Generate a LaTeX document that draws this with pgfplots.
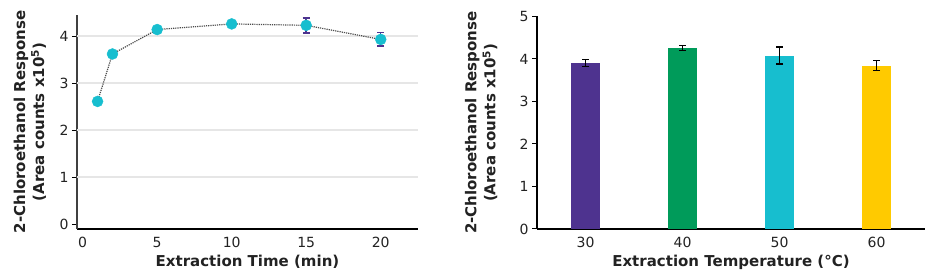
\documentclass[border=0pt]{standalone}
\usepackage{pgfplots}
\pgfplotsset{compat=1.18}
\usepackage{fontspec}
\setmainfont{DejaVu Sans}
\definecolor{cyanM}{HTML}{17BECF}
\definecolor{purpleB}{HTML}{4E338F}
\definecolor{greenB}{HTML}{009B5A}
\definecolor{yellowB}{HTML}{FFCA00}
\definecolor{gridc}{HTML}{E6E6E6}
\definecolor{txt}{HTML}{222222}
\pgfplotsset{
  common/.style={
    scale only axis,
    anchor=south west,
    axis x line*=bottom,
    axis y line*=left,
    axis line style={-},
    tick align=outside,
    major tick length=5pt,
    /pgf/number format/assume math mode=true,
    ticklabel style={font=\fontsize{14}{14}\selectfont, text=txt},
    label style={font=\bfseries\fontsize{15}{19}\selectfont, text=txt},
    xtick style={draw=none},
    ytick style={line width=1pt, black},
  },
  barerr/.style={
    error bars/.cd, y dir=both, y explicit,
    error bar style={black, line width=1.2pt},
    error mark options={rotate=90, mark size=3.5pt, line width=1.2pt, black},
  }
}
\begin{document}
\begin{tikzpicture}
\useasboundingbox (0pt,0pt) rectangle (950pt,275pt);
% left chart
\begin{axis}[common,
  at={(77pt,46pt)},
  width=341pt, height=214pt,
  xmin=-0.38, xmax=22.5,
  ymin=-0.106, ymax=4.45,
  xtick={0,5,10,15,20},
  ytick={0,1,2,3,4},
  extra y ticks={1,2,3,4},
  extra y tick labels={},
  extra y tick style={grid=major, major tick length=0pt},
  grid style={gridc, line width=1.3pt},
  x axis line style={black, line width=2pt},
  y axis line style={black!75, line width=1.6pt},
  xlabel={Extraction Time (min)},
  xlabel style={at={(axis description cs:0.5,0)}, anchor=center, yshift=-33pt},
  ylabel={2-Chloroethanol Response\\(Area counts x10\textsuperscript{5})},
  ylabel style={at={(axis description cs:-0.138,0.5)}, anchor=center, align=center},
]
\addplot[densely dotted, black!70, line width=1.2pt] coordinates {
  (1,2.61) (2,3.62) (5,4.14) (10,4.26) (15,4.23) (20,3.93)
};
\addplot[draw=none, mark=none,
  error bars/.cd, y dir=both, y explicit,
  error bar style={purpleB, line width=1.5pt},
  error mark options={rotate=90, mark size=3.5pt, line width=1.5pt, purpleB}]
 coordinates {
  (1,2.61) +- (0,0.02)
  (2,3.62) +- (0,0.02)
  (5,4.14) +- (0,0.02)
  (10,4.26) +- (0,0.02)
  (15,4.23) +- (0,0.16)
  (20,3.93) +- (0,0.145)
};
\addplot[only marks, mark=*, mark size=5.5pt, mark options={fill=cyanM, draw=cyanM}] coordinates {
  (1,2.61) (2,3.62) (5,4.14) (10,4.26) (15,4.23) (20,3.93)
};
\end{axis}
% right chart
\begin{axis}[common,
  at={(537pt,46pt)},
  width=388pt, height=212.5pt,
  xmin=-0.5, xmax=3.5,
  ymin=0, ymax=5,
  xtick={0,1,2,3},
  xticklabels={30,40,50,60},
  ytick={0,1,2,3,4,5},
  axis line style={black, line width=1.5pt},
  ybar, bar width=29pt,
  xlabel={Extraction Temperature (°C)},
  xlabel style={at={(axis description cs:0.5,0)}, anchor=center, yshift=-33pt},
  ylabel={2-Chloroethanol Response\\(Area counts x10\textsuperscript{5})},
  ylabel style={at={(axis description cs:-0.1436,0.5)}, anchor=center, align=center},
]
\addplot[bar shift=0pt, fill=purpleB, draw=none, barerr] coordinates {(0,3.91) +- (0,0.086)};
\addplot[bar shift=0pt, fill=greenB, draw=none, barerr] coordinates {(1,4.26) +- (0,0.06)};
\addplot[bar shift=0pt, fill=cyanM, draw=none, barerr] coordinates {(2,4.08) +- (0,0.20)};
\addplot[bar shift=0pt, fill=yellowB, draw=none, barerr] coordinates {(3,3.84) +- (0,0.12)};
\end{axis}
\end{tikzpicture}
\end{document}
